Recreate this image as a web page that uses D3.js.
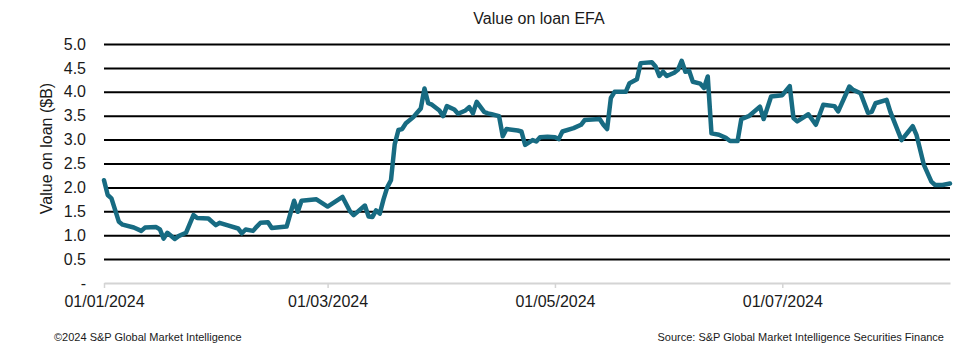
<!DOCTYPE html>
<html>
<head>
<meta charset="utf-8">
<script src="https://cdn.jsdelivr.net/npm/d3@7"></script>
<style>
  body { margin: 0; background: #fff; }
  text { font-family: "Liberation Sans", Arial, sans-serif; fill: #1a1a1a; }
</style>
</head>
<body>
<script>
// Value on loan EFA - line chart

const margin = {top: 44, right: 20, left: 104, bottom: 71};

const outerWidth = 970;
const outerHeight = 354;

// data
const dates = ["2024-01-01","2024-01-02","2024-01-03","2024-01-05","2024-01-06","2024-01-09","2024-01-11","2024-01-12",
  "2024-01-15","2024-01-16","2024-01-17","2024-01-18","2024-01-20","2024-01-21","2024-01-23","2024-01-25","2024-01-26",
  "2024-01-29","2024-01-31","2024-02-01","2024-02-03","2024-02-06","2024-02-07","2024-02-08","2024-02-10","2024-02-11",
  "2024-02-12","2024-02-14","2024-02-15","2024-02-19","2024-02-21","2024-02-22","2024-02-23","2024-02-27","2024-03-01",
  "2024-03-05","2024-03-07","2024-03-08","2024-03-11","2024-03-12","2024-03-13","2024-03-14","2024-03-15","2024-03-16",
  "2024-03-17","2024-03-18","2024-03-19","2024-03-20","2024-03-21","2024-03-22","2024-03-24","2024-03-25","2024-03-26",
  "2024-03-27","2024-03-28","2024-03-29","2024-03-31","2024-04-01","2024-04-02","2024-04-04","2024-04-05","2024-04-07",
  "2024-04-08","2024-04-09","2024-04-10","2024-04-12","2024-04-13","2024-04-14","2024-04-16","2024-04-17","2024-04-18",
  "2024-04-21","2024-04-22","2024-04-23","2024-04-25","2024-04-26","2024-04-27","2024-04-29","2024-05-01","2024-05-02",
  "2024-05-03","2024-05-06","2024-05-08","2024-05-09","2024-05-13","2024-05-14","2024-05-15","2024-05-16","2024-05-17",
  "2024-05-20","2024-05-21","2024-05-23","2024-05-24","2024-05-27","2024-05-28","2024-05-29","2024-05-30","2024-05-31",
  "2024-06-02","2024-06-03","2024-06-04","2024-06-05","2024-06-06","2024-06-07","2024-06-09","2024-06-10","2024-06-11",
  "2024-06-12","2024-06-14","2024-06-16","2024-06-17","2024-06-19","2024-06-20","2024-06-22","2024-06-25","2024-06-26",
  "2024-06-28","2024-07-01","2024-07-03","2024-07-04","2024-07-05","2024-07-07","2024-07-08","2024-07-10","2024-07-12",
  "2024-07-15","2024-07-16","2024-07-19","2024-07-20","2024-07-22","2024-07-24","2024-07-25","2024-07-26","2024-07-29",
  "2024-07-30","2024-08-02","2024-08-05","2024-08-06","2024-08-08","2024-08-10","2024-08-11","2024-08-13","2024-08-15"];

const values = [2.15,1.84,1.77,1.28,1.22,1.16,1.09,1.16,
  1.17,1.12,0.93,1.05,0.92,0.98,1.05,1.42,1.36,
  1.35,1.21,1.26,1.21,1.14,1.04,1.12,1.09,1.18,
  1.26,1.27,1.15,1.18,1.72,1.49,1.72,1.75,1.60,
  1.80,1.50,1.42,1.62,1.39,1.38,1.52,1.45,1.75,
  2.00,2.15,2.90,3.20,3.22,3.34,3.47,3.56,3.65,
  4.07,3.76,3.73,3.61,3.49,3.70,3.63,3.54,3.61,
  3.68,3.55,3.79,3.58,3.55,3.53,3.49,3.07,3.22,
  3.19,3.17,2.89,2.99,2.96,3.05,3.06,3.05,3.01,
  3.17,3.24,3.31,3.41,3.43,3.31,3.22,3.87,4.00,
  4.00,4.18,4.26,4.60,4.62,4.53,4.33,4.42,4.33,
  4.40,4.46,4.65,4.42,4.44,4.21,4.17,4.08,4.32,
  3.13,3.10,3.03,2.97,2.97,3.43,3.49,3.69,3.43,
  3.90,3.93,4.12,3.45,3.38,3.48,3.53,3.31,3.73,
  3.70,3.59,4.11,4.04,3.97,3.56,3.58,3.76,3.83,
  3.58,2.99,3.28,3.10,2.47,2.12,2.05,2.05,2.08];

const yTicks = [0, 0.5, 1, 1.5, 2, 2.5, 3, 3.5, 4, 4.5, 5];
const xTicks = ["2024-01-01", "2024-03-01", "2024-05-01", "2024-07-01"];
const xStart = "2024-01-01";
const xEnd = "2024-08-15";

const chartTitle = "Value on loan EFA";
const yTitle = "Value on loan ($B)";
const leftNote = "\u00a92024 S&P Global Market Intelligence";
const rightNote = "Source: S&P Global Market Intelligence Securities Finance";

const parse = d3.timeParse("%Y-%m-%d");
const loan = dates.map((d, i) => ({date: parse(d), value: values[i]}));

const innerWidth = outerWidth - margin.left - margin.right;
const innerHeight = outerHeight - margin.top - margin.bottom;

const svg = d3.select("body").append("svg")
    .attr("width", outerWidth)
    .attr("height", outerHeight);

const inner = svg.append("g")
    .attr("transform", "translate(" + margin.left + "," + margin.top + ")");

const xScale = d3.scaleTime()
    .domain([parse(xStart), parse(xEnd)])
    .range([0, innerWidth]);

const yScale = d3.scaleLinear()
    .domain([0, 5])
    .range([innerHeight, 0]);

// horizontal grid + y labels
const yAxis = inner.append("g")
    .call(d3.axisLeft(yScale)
        .tickValues(yTicks)
        .tickSize(-innerWidth)
        .tickPadding(18)
        .tickFormat(d => d === 0 ? "-" : d3.format(".1f")(d)));

yAxis.select(".domain").remove();
yAxis.selectAll(".tick line")
    .attr("stroke", d => d === 0 ? "none" : "#000")
    .attr("stroke-width", 2);
yAxis.selectAll(".tick text")
    .style("font-size", "16px")
    .attr("fill", "#1a1a1a");

// x axis
const xAxis = inner.append("g")
    .attr("transform", "translate(0," + innerHeight + ")")
    .call(d3.axisBottom(xScale)
        .tickValues(xTicks.map(parse))
        .tickSizeInner(5)
        .tickSizeOuter(0)
        .tickPadding(8)
        .tickFormat(d3.timeFormat("%d/%m/%Y")));

xAxis.select(".domain")
    .attr("stroke", "#d4d4d4")
    .attr("stroke-width", 2);
xAxis.selectAll(".tick line")
    .attr("stroke", "#d4d4d4")
    .attr("stroke-width", 1.5);
xAxis.selectAll(".tick text")
    .style("font-size", "16px")
    .attr("fill", "#1a1a1a");

// the line
const line = d3.line()
    .x(d => xScale(d.date))
    .y(d => yScale(d.value));

inner.append("path")
    .datum(loan)
    .attr("fill", "none")
    .attr("stroke", "#176b82")
    .attr("stroke-width", 4.5)
    .attr("stroke-linejoin", "round")
    .attr("stroke-linecap", "round")
    .attr("d", line);

// titles and notes
svg.append("text")
    .attr("x", 539)
    .attr("y", 24)
    .attr("text-anchor", "middle")
    .style("font-size", "16px")
    .text(chartTitle);

svg.append("text")
    .attr("transform", "translate(52," + (margin.top + innerHeight / 2 - 15) + ")rotate(-90)")
    .attr("text-anchor", "middle")
    .style("font-size", "16px")
    .text(yTitle);

svg.append("text")
    .attr("x", 54)
    .attr("y", 341)
    .style("font-size", "11px")
    .text(leftNote);

svg.append("text")
    .attr("x", 944)
    .attr("y", 341)
    .attr("text-anchor", "end")
    .style("font-size", "11px")
    .text(rightNote);
</script>
</body>
</html>
